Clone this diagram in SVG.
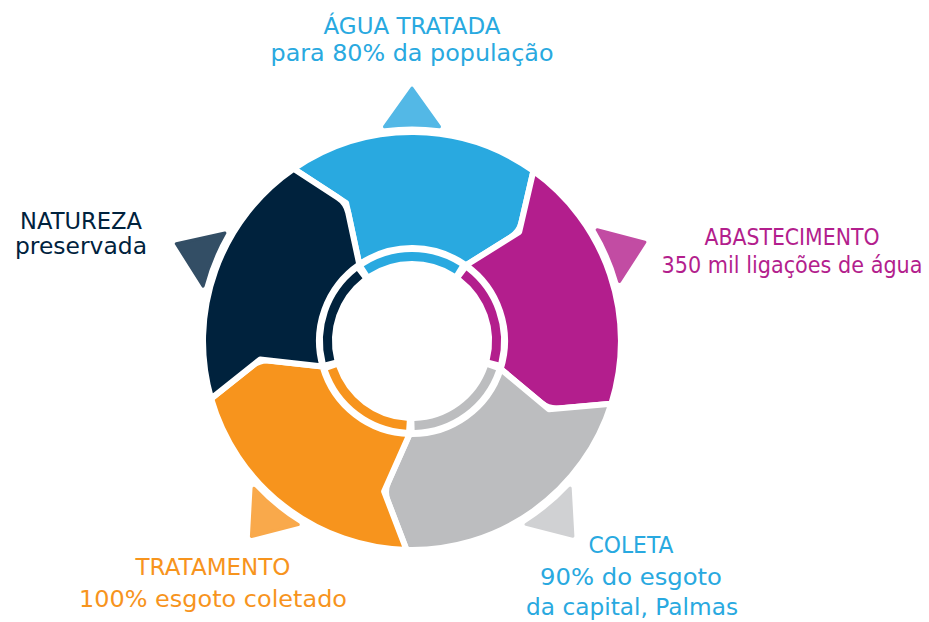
<svg xmlns="http://www.w3.org/2000/svg" width="929" height="622" viewBox="0 0 929 622">
<style>
.seg{stroke:#fff;stroke-width:6;stroke-linejoin:round}
.ring{fill:none;stroke-width:9}
.tri{stroke-width:3;stroke-linejoin:round}
text{font-family:"DejaVu Sans","Open Sans",sans-serif;font-size:22.5px;text-anchor:middle}
.blue{fill:#29a9e0}.mag{fill:#b31e8d}.gray{fill:#bcbdbf}.org{fill:#f7941d}.dark{fill:#00223d}
</style>
<rect width="929" height="622" fill="#fff"/>
<g id="agua">
<path class="tri" fill="#53b8e6" stroke="#53b8e6" d="M412,88 L439.5,126.7 A216,216 0 0 0 384.5,126.7 Z"/>
<path class="seg blue" d="M293.6,168.8 A209,209 0 0 1 533.4,170.9 L521.5,222.2 Q519.2,231.9 510.7,237.2 L466,265.3 A93,93 0 0 0 359.3,264.4 L346.1,202.9 Z"/>
<path class="ring" stroke="#29a9e0" d="M366.2,270 A84.5,84.5 0 0 1 457.2,269.6"/>
<text class="blue" x="412" y="34" textLength="177" lengthAdjust="spacingAndGlyphs">ÁGUA TRATADA</text>
<text class="blue" x="412" y="61" textLength="283" lengthAdjust="spacingAndGlyphs">para 80% da população</text>
</g>
<g id="abastecimento">
<path class="tri" fill="#c24ca3" stroke="#c24ca3" d="M644.9,242.2 L619.6,281.5 A216,216 0 0 0 597.2,229.8 Z"/>
<path class="seg mag" d="M533.4,170.9 A209,209 0 0 1 611.3,403.8 L558.9,408.4 Q548.9,409.3 541.2,402.9 L500.7,369 A93,93 0 0 0 466,265.3 L519.2,231.9 Z"/>
<path class="ring" stroke="#b31e8d" d="M463.7,274.1 A84.5,84.5 0 0 1 494.1,361.2"/>
<text class="mag" x="792" y="245" textLength="175" lengthAdjust="spacingAndGlyphs">ABASTECIMENTO</text>
<text class="mag" x="792" y="273" textLength="261" lengthAdjust="spacingAndGlyphs">350 mil ligações de água</text>
</g>
<g id="coleta">
<path class="tri" fill="#d0d1d3" stroke="#d0d1d3" d="M572.9,536.2 L526,524.4 A216,216 0 0 0 570.2,488 Z"/>
<path class="seg gray" d="M611.3,403.8 A209,209 0 0 1 406.5,549.9 L387.7,500.7 Q384.1,491.4 388.2,482.3 L409.6,434 A93,93 0 0 0 500.7,369 L548.9,409.3 Z"/>
<path class="ring" stroke="#bcbdbf" d="M491.8,368.8 A84.5,84.5 0 0 1 414.5,425.5"/>
<text class="blue" x="631" y="553" textLength="85" lengthAdjust="spacingAndGlyphs">COLETA</text>
<text class="blue" x="631" y="585" textLength="182" lengthAdjust="spacingAndGlyphs">90% do esgoto</text>
<text class="blue" x="632" y="615" textLength="212" lengthAdjust="spacingAndGlyphs">da capital, Palmas</text>
</g>
<g id="tratamento">
<path class="tri" fill="#f9a94b" stroke="#f9a94b" d="M251.4,536.5 L254,488.3 A216,216 0 0 0 298.2,524.6 Z"/>
<path class="seg org" d="M406.5,549.9 A209,209 0 0 1 211.1,398.6 L252.3,365.8 Q260.1,359.6 270,360.7 L322.6,366.6 A93,93 0 0 0 409.6,434 L384.1,491.4 Z"/>
<path class="ring" stroke="#f7941d" d="M406.5,425.3 A84.5,84.5 0 0 1 332.2,368.8"/>
<text class="org" x="213" y="575" textLength="155" lengthAdjust="spacingAndGlyphs">TRATAMENTO</text>
<text class="org" x="213" y="607" textLength="268" lengthAdjust="spacingAndGlyphs">100% esgoto coletado</text>
</g>
<g id="natureza">
<path class="tri" fill="#334e65" stroke="#334e65" d="M176.3,243.8 L224.9,233 A216,216 0 0 0 203.1,286.2 Z"/>
<path class="seg dark" d="M211.1,398.6 A209,209 0 0 1 293.6,168.8 L337.7,197.5 Q346.1,202.9 348.2,212.7 L359.3,264.4 A93,93 0 0 0 322.6,366.6 L260.1,359.6 Z"/>
<path class="ring" stroke="#00223d" d="M329.9,361.2 A84.5,84.5 0 0 1 359.7,274.6"/>
<text class="dark" x="81" y="229" textLength="122" lengthAdjust="spacingAndGlyphs">NATUREZA</text>
<text class="dark" x="81" y="254" textLength="132" lengthAdjust="spacingAndGlyphs">preservada</text>
</g>
<g id="connectors"/>
</svg>
